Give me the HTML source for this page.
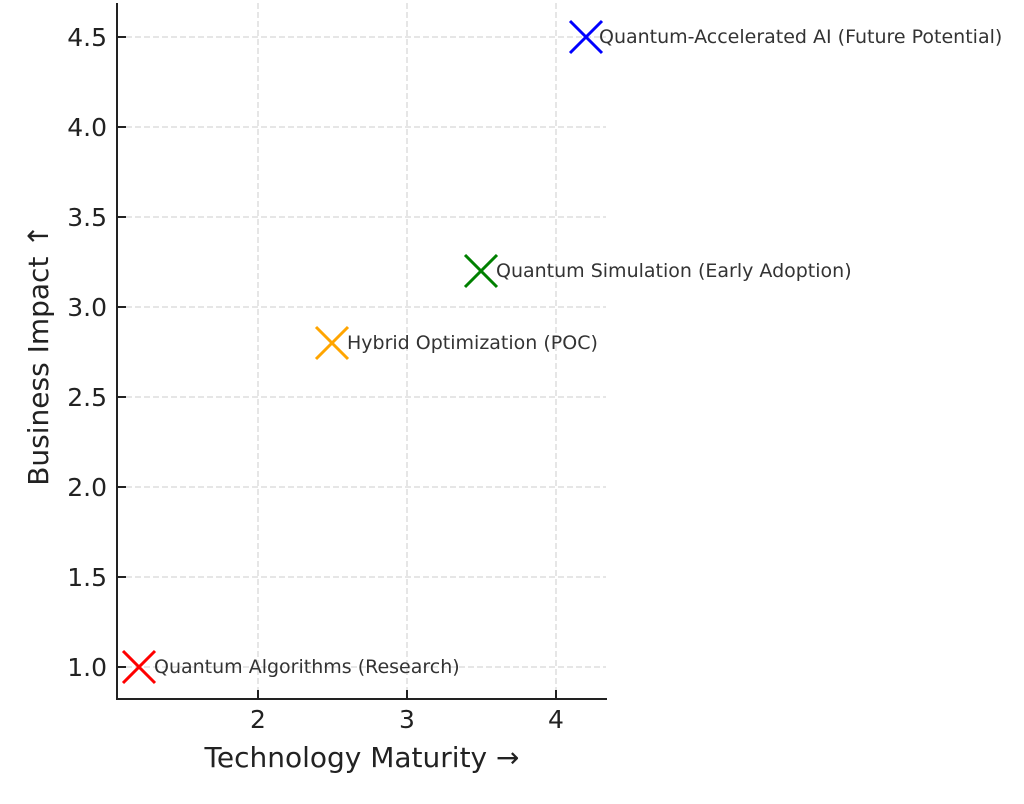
<!DOCTYPE html>
<html><head><style>body{margin:0;background:#fff}</style></head><body>
<svg width="1024" height="799" xmlns="http://www.w3.org/2000/svg" font-family="DejaVu Sans, Liberation Sans, sans-serif">
<rect width="1024" height="799" fill="#fff"/>
<g stroke="#cccccc" stroke-width="1" stroke-dasharray="6,3">
<line x1="258" y1="3" x2="258" y2="699"/><line x1="407" y1="3" x2="407" y2="699"/><line x1="556" y1="3" x2="556" y2="699"/>
<line x1="117" y1="37" x2="606" y2="37"/><line x1="117" y1="127" x2="606" y2="127"/><line x1="117" y1="217" x2="606" y2="217"/>
<line x1="117" y1="307" x2="606" y2="307"/><line x1="117" y1="397" x2="606" y2="397"/><line x1="117" y1="487" x2="606" y2="487"/>
<line x1="117" y1="577" x2="606" y2="577"/><line x1="117" y1="667" x2="606" y2="667"/>
</g>
<g stroke="#222" stroke-width="2">
<line x1="117" y1="3" x2="117" y2="700"/><line x1="116" y1="699" x2="607" y2="699"/>
<line x1="117" y1="37" x2="126" y2="37"/><line x1="117" y1="127" x2="126" y2="127"/><line x1="117" y1="217" x2="126" y2="217"/><line x1="117" y1="307" x2="126" y2="307"/><line x1="117" y1="397" x2="126" y2="397"/><line x1="117" y1="487" x2="126" y2="487"/><line x1="117" y1="577" x2="126" y2="577"/><line x1="117" y1="667" x2="126" y2="667"/>
<line x1="258" y1="699" x2="258" y2="690"/><line x1="407" y1="699" x2="407" y2="690"/><line x1="556" y1="699" x2="556" y2="690"/>
</g>
<g fill="#222" font-size="25" text-anchor="end">
<text x="107" y="46">4.5</text><text x="107" y="136">4.0</text><text x="107" y="226">3.5</text><text x="107" y="316">3.0</text><text x="107" y="406">2.5</text><text x="107" y="496">2.0</text><text x="107" y="586">1.5</text><text x="107" y="676">1.0</text>
</g>
<g fill="#222" font-size="25" text-anchor="middle">
<text x="258" y="728">2</text><text x="407" y="728">3</text><text x="556" y="728">4</text>
</g>
<text x="362" y="767" font-size="28" text-anchor="middle" fill="#222">Technology Maturity →</text>
<text transform="translate(48,355) rotate(-90)" font-size="28" text-anchor="middle" fill="#222">Business Impact ↑</text>
<g stroke-width="3">
<path d="M570 21L602 53M602 21L570 53" stroke="#0000ff"/>
<path d="M465 255L497 287M497 255L465 287" stroke="#008000"/>
<path d="M316 327L348 359M348 327L316 359" stroke="#ffa500"/>
<path d="M123 651L155 683M155 651L123 683" stroke="#ff0000"/>
</g>
<g fill="#333" font-size="19">
<text x="599" y="43">Quantum-Accelerated AI (Future Potential)</text>
<text x="496" y="277">Quantum Simulation (Early Adoption)</text>
<text x="347" y="349">Hybrid Optimization (POC)</text>
<text x="154" y="673">Quantum Algorithms (Research)</text>
</g>
</svg>
</body></html>
